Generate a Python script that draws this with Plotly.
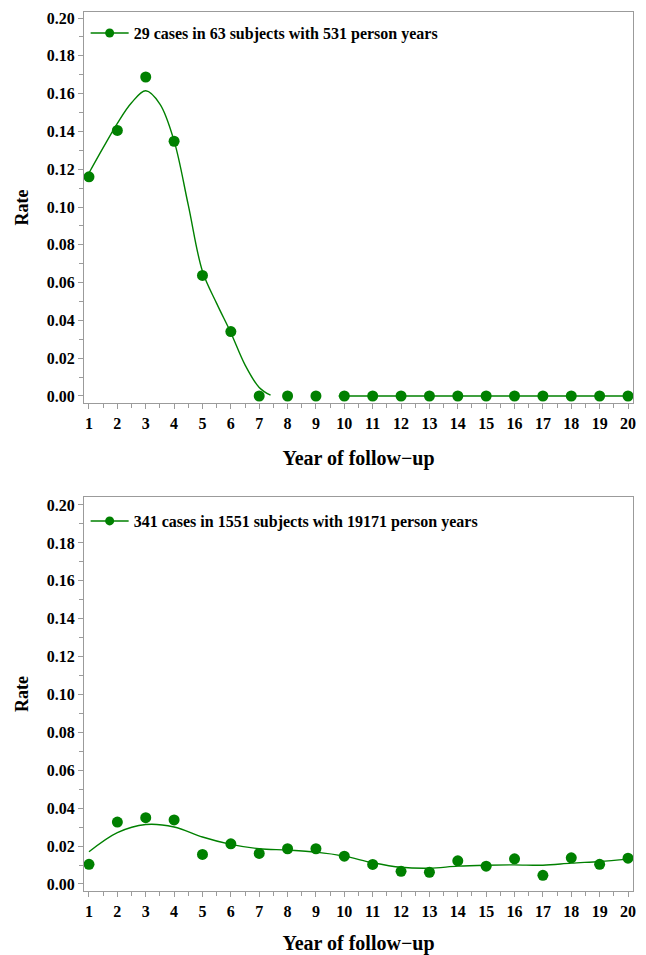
import plotly.graph_objects as go
from plotly.subplots import make_subplots

years = list(range(1, 21))

# Panel 1 observed rates
rate_top = [0.1160, 0.1405, 0.1688, 0.1348, 0.0638, 0.0341, 0, 0, 0, 0,
            0, 0, 0, 0, 0, 0, 0, 0, 0, 0]
# Panel 1 smooth fit
fit_top_x = [1, 1.5, 2, 2.5, 3, 3.5, 4, 4.5, 5, 5.5, 6, 6.5, 7, 7.4]
fit_top_y = [0.1180, 0.1314, 0.1443, 0.1552, 0.1615, 0.1545, 0.1350, 0.1010,
             0.0660, 0.0490, 0.0335, 0.0165, 0.0045, 0.0004]
fit_top2_x = [9.8, 20]
fit_top2_y = [0.0, 0.0]

# Panel 2 observed rates
rate_bot = [0.0104, 0.0327, 0.0350, 0.0338, 0.0156, 0.0212, 0.0161, 0.0186,
            0.0186, 0.0147, 0.0103, 0.0067, 0.0062, 0.0122, 0.0094, 0.0133,
            0.0046, 0.0138, 0.0104, 0.0136]
# Panel 2 smooth fit
fit_bot_y = [0.0170, 0.0271, 0.0314, 0.0301, 0.0248, 0.0209, 0.0186, 0.0179,
             0.0168, 0.0147, 0.0112, 0.0088, 0.0083, 0.0094, 0.0099, 0.0101,
             0.0099, 0.0110, 0.0119, 0.0131]

label_top = "29 cases in 63 subjects with 531 person years"
label_bot = "341 cases in 1551 subjects with 19171 person years"

y_ticks = [0.00, 0.02, 0.04, 0.06, 0.08, 0.10, 0.12, 0.14, 0.16, 0.18, 0.20]
y_ticklabels = ["%.2f" % v for v in y_ticks]

GREEN = "#008000"
FONT = "Liberation Serif"
GRAY = "#9b9b9b"

fig = make_subplots(rows=2, cols=1, vertical_spacing=0.1071)
fig.update_yaxes(domain=[0.5552, 1.0], row=1, col=1)
fig.update_yaxes(domain=[0.0, 0.4482], row=2, col=1)

def add_panel(row, rates, fx, fy, label, legend, extra=None):
    fig.add_trace(go.Scatter(x=fx, y=fy, mode="lines", line=dict(color=GREEN, width=1.4, shape="spline"),
                             showlegend=False, hoverinfo="skip"), row=row, col=1)
    if extra is not None:
        fig.add_trace(go.Scatter(x=extra[0], y=extra[1], mode="lines", line=dict(color=GREEN, width=1.4),
                                 showlegend=False, hoverinfo="skip"), row=row, col=1)
    fig.add_trace(go.Scatter(x=years, y=rates, mode="markers",
                             marker=dict(color=GREEN, size=11), showlegend=False, cliponaxis=False),
                  row=row, col=1)
    fig.add_trace(go.Scatter(x=[None], y=[None], mode="lines+markers", name=label,
                             line=dict(color=GREEN, width=1.4), marker=dict(color=GREEN, size=9),
                             legend=legend), row=row, col=1)

add_panel(1, rate_top, fit_top_x, fit_top_y, label_top, "legend", extra=(fit_top2_x, fit_top2_y))
add_panel(2, rate_bot, years, fit_bot_y, label_bot, "legend2")

axis_common = dict(showline=True, linecolor=GRAY, linewidth=1, mirror=True, showgrid=False,
                   zeroline=False, ticks="outside", tickcolor=GRAY, ticklen=5, automargin=False,
                   tickfont=dict(family=FONT, size=16, color="black", weight="bold"))

for r in (1, 2):
    fig.update_xaxes(domain=[0, 1], range=[0.824, 20.176], tickvals=years, ticktext=[str(y) for y in years],
                     tickangle=0,
                     minor=dict(dtick=0.5, tick0=0.5, ticks="outside", ticklen=4, tickcolor=GRAY),
                     title=dict(text="Year of follow\u2212up",
                                font=dict(family=FONT, size=20, color="black", weight="bold"),
                                standoff=19),
                     ticklabelstandoff=1,
                     row=r, col=1, **axis_common)
fig.update_yaxes(range=[-0.0037, 0.2032], row=1, col=1)
fig.update_yaxes(range=[-0.0037, 0.2042], row=2, col=1)
for r in (1, 2):
    fig.update_yaxes(tickvals=y_ticks, ticktext=y_ticklabels,
                     minor=dict(dtick=0.01, ticks="outside", ticklen=4, tickcolor=GRAY),
                     title=dict(text="Rate", font=dict(family=FONT, size=18, color="black", weight="bold"),
                                standoff=13),
                     ticklabelstandoff=0,
                     row=r, col=1, **axis_common)

legend_common = dict(bgcolor="rgba(0,0,0,0)",
                     font=dict(family=FONT, size=16, color="black", weight="bold"),
                     xref="paper", yref="paper", xanchor="left", yanchor="middle",
                     itemwidth=38)
fig.update_layout(
    width=646, height=955,
    margin=dict(l=84, r=13, t=12, b=64, autoexpand=False),
    plot_bgcolor="white", paper_bgcolor="white",
    legend=dict(x=0.003, y=0.976, **legend_common),
    legend2=dict(x=0.003, y=0.4209, **legend_common),
)

fig.write_html("out.html", config={"displayModeBar": False},
               post_script="document.body.style.margin='0';")
